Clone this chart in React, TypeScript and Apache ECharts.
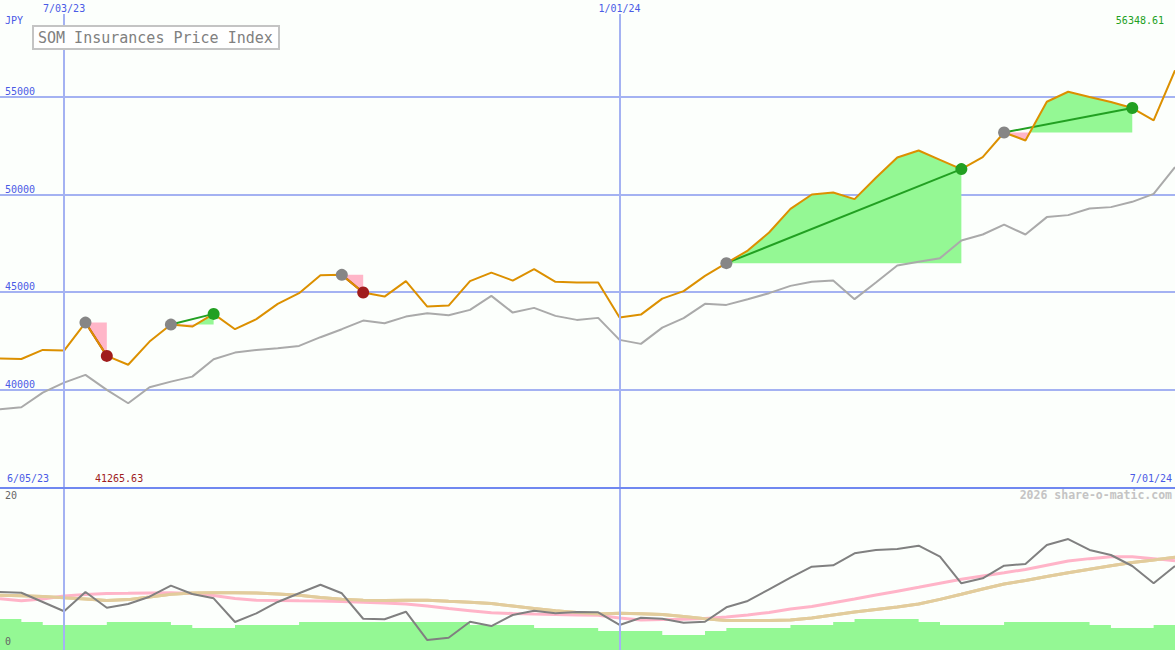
import React, { useEffect, useRef } from 'react';
import * as echarts from 'echarts';

// ---- data (weekly, index 0..55) ----
const topDateLabels = ['7/03/23', '1/01/24'];
const topDateIndex = [3, 29];
const edgeLabels = ['6/05/23', '7/01/24'];
const priceTicks = [40000, 45000, 50000, 55000];

const price = [
  41579, 41560, 42025, 41989, 43425, 41717, 41265.63, 42451, 43322, 43220,
  43871, 43086, 43599, 44384, 44932, 45855, 45870, 44963, 44758, 45547,
  44245, 44296, 45547, 45988, 45578, 46163, 45512, 45476, 45476, 43681,
  43835, 44655, 45035, 45819, 46470, 47116, 48039, 49254, 49987, 50090,
  49751, 50844, 51884, 52243, 51766, 51290, 51905, 53166, 52756, 54740,
  55253, 54981, 54725, 54417, 53781, 56348.61,
];

const compare = [
  38985, 39087, 39836, 40349, 40743, 39974, 39292, 40113, 40400, 40656,
  41548, 41887, 42025, 42112, 42230, 42676, 43086, 43527, 43394, 43732,
  43907, 43804, 44076, 44794, 43937, 44179, 43768, 43563, 43666, 42538,
  42333, 43168, 43650, 44384, 44332, 44625, 44932, 45306, 45512, 45578,
  44625, 45476, 46347, 46537, 46727, 47629, 47937, 48449, 47937, 48829,
  48931, 49270, 49341, 49613, 50023, 51392,
];

const osc = [
  7.16, 7.07, 5.93, 4.78, 7.16, 5.22, 5.68, 6.58, 7.94, 6.91,
  6.38, 3.46, 4.53, 5.93, 7.0, 8.06, 7.0, 3.86, 3.79, 4.73,
  1.23, 1.52, 3.49, 2.96, 4.32, 4.85, 4.53, 4.69, 4.65, 3.09,
  3.99, 3.86, 3.37, 3.49, 5.27, 6.05, 7.49, 8.93, 10.28, 10.46,
  11.94, 12.35, 12.47, 12.88, 11.52, 8.23, 8.85, 10.41, 10.62, 12.96,
  13.7, 12.35, 11.73, 10.37, 8.23, 10.37,
];

const maFast = [
  6.33, 6.09, 6.3, 6.67, 6.85, 6.98, 7.0, 7.04, 7.06, 6.98,
  6.73, 6.36, 6.15, 6.1, 6.07, 6.05, 5.98, 5.89, 5.8, 5.68,
  5.43, 5.12, 4.86, 4.6, 4.51, 4.44, 4.38, 4.32, 4.28, 3.95,
  3.7, 3.75, 3.79, 3.89, 4.07, 4.32, 4.63, 5.06, 5.37, 5.83,
  6.3, 6.78, 7.26, 7.74, 8.25, 8.73, 9.14, 9.53, 9.95, 10.47,
  10.98, 11.28, 11.52, 11.52, 11.28, 11.02,
];

const maSlow = [
  6.75, 6.7, 6.6, 6.44, 6.3, 6.11, 6.22, 6.54, 6.89, 7.04,
  7.07, 7.06, 7.04, 6.91, 6.77, 6.48, 6.27, 6.14, 6.1, 6.14,
  6.14, 6.01, 5.89, 5.74, 5.43, 5.12, 4.86, 4.62, 4.44, 4.53,
  4.47, 4.37, 4.14, 3.86, 3.65, 3.63, 3.65, 3.7, 3.95, 4.32,
  4.69, 5.0, 5.31, 5.67, 6.25, 6.88, 7.54, 8.14, 8.59, 9.07,
  9.53, 9.98, 10.4, 10.8, 11.11, 11.44,
];

const volume = [
  3.83, 3.46, 3.09, 3.09, 3.09, 3.46, 3.46, 3.46, 3.09, 2.72,
  2.72, 3.09, 3.09, 3.09, 3.46, 3.46, 3.46, 3.46, 3.46, 3.46,
  3.46, 3.46, 3.09, 3.09, 3.09, 2.72, 2.72, 2.72, 2.35, 2.35,
  2.35, 1.85, 1.85, 2.35, 2.72, 2.72, 2.72, 3.09, 3.09, 3.46,
  3.83, 3.83, 3.83, 3.46, 3.09, 3.09, 3.09, 3.46, 3.46, 3.46,
  3.46, 3.09, 2.72, 2.72, 3.09, 3.09,
];

const tradeEntry = [4, 8, 16, 34, 47];
const tradeExit = [5, 10, 17, 45, 53];

// ---- styles ----
const FONT = 'DejaVu Sans Mono';
const BG = '#fcfffc';
const GRID_BLUE = '#a4b2f2';
const SEP_BLUE = '#7088f0';
const LABEL_BLUE = '#4a5ae6';
const ORANGE = '#dc9000';
const GRAY_LINE = '#aaaaaa';
const WIN = '#22a022';
const LOSS = '#a01c1c';
const FILL_GREEN = '#94f894';
const FILL_PINK = '#ffb6c8';

const App: React.FC = () => {
  const ref = useRef<HTMLDivElement>(null);

  useEffect(() => {
    if (!ref.current) return;
    const chart = echarts.init(ref.current, undefined, { renderer: 'svg' });
    const idx = (arr: number[]) => arr.map((v, k) => [k, v]);
    const low = Math.min(...price);
    const last = price[price.length - 1];

    const renderTrade = (params: any, api: any) => {
      const i = params.dataIndex;
      const a = tradeEntry[i];
      const b = tradeExit[i];
      const base = price[a];
      const pts: number[][] = [[a, price[a]]];
      for (let k = a; k < b; k++) {
        const d0 = price[k] - base;
        const d1 = price[k + 1] - base;
        if (d0 * d1 < 0) {
          const t = d0 / (d0 - d1);
          pts.push([k + t, base]);
        }
        pts.push([k + 1, price[k + 1]]);
      }
      const children: any[] = [];
      let run: number[][] = [pts[0]];
      let sign = 0;
      const flush = () => {
        if (run.length >= 2 && sign !== 0) {
          const poly = run
            .concat([[run[run.length - 1][0], base], [run[0][0], base]])
            .map((p) => api.coord(p));
          children.push({
            type: 'polygon',
            shape: { points: poly },
            style: { fill: sign > 0 ? FILL_GREEN : FILL_PINK, stroke: 'none' },
          });
        }
      };
      for (let j = 1; j < pts.length; j++) {
        const p = pts[j];
        const s = Math.sign(p[1] - base);
        if (s === 0) {
          run.push(p);
          flush();
          run = [p];
          sign = 0;
        } else {
          if (sign === 0) sign = s;
          run.push(p);
        }
      }
      flush();
      const p0 = api.coord([a, price[a]]);
      const p1 = api.coord([b, price[b]]);
      children.push({
        type: 'line',
        shape: { x1: p0[0], y1: p0[1], x2: p1[0], y2: p1[1] },
        style: { stroke: price[b] > base ? WIN : LOSS, lineWidth: 2 },
      });
      return { type: 'group', children };
    };

    const vLines = {
      silent: true,
      symbol: 'none',
      label: { show: false },
      lineStyle: { color: GRID_BLUE, width: 2, type: 'solid' },
      emphasis: { disabled: true },
      data: topDateIndex.map((x) => ({ xAxis: x })),
    };

    chart.setOption({
      animation: false,
      backgroundColor: BG,
      grid: [
        { left: 0, right: 0, top: 14, height: 473 },
        { left: 0, right: 0, top: 488, height: 162 },
      ],
      xAxis: [
        {
          gridIndex: 0,
          type: 'value',
          min: 0,
          max: price.length - 1,
          position: 'top',
          axisLine: { show: false },
          axisTick: { show: false },
          splitLine: { show: false },
          axisLabel: {
            customValues: topDateIndex,
            formatter: (v: number) => topDateLabels[topDateIndex.indexOf(v)] ?? '',
            color: LABEL_BLUE,
            fontSize: 10,
            fontFamily: FONT,
            margin: 1,
          },
        },
        {
          gridIndex: 1,
          type: 'value',
          min: 0,
          max: price.length - 1,
          position: 'top',
          axisLine: { show: true, onZero: false, lineStyle: { color: SEP_BLUE, width: 2 } },
          axisTick: { show: false },
          splitLine: { show: false },
          axisLabel: { show: false },
          z: 10,
        },
      ],
      yAxis: [
        {
          gridIndex: 0,
          type: 'value',
          min: 35000,
          max: 59237,
          interval: 5000,
          axisLine: { show: false },
          axisTick: { show: false },
          splitLine: {
            show: true,
            showMinLine: false,
            showMaxLine: false,
            lineStyle: { color: GRID_BLUE, width: 2 },
          },
          axisLabel: {
            inside: true,
            margin: 5,
            verticalAlign: 'bottom',
            color: LABEL_BLUE,
            fontSize: 10,
            fontFamily: FONT,
            formatter: (v: number) => (priceTicks.includes(v) ? String(v) : ''),
          },
        },
        {
          gridIndex: 1,
          type: 'value',
          min: 0,
          max: 20,
          show: false,
          splitLine: { show: false },
        },
      ],
      series: [
        {
          type: 'custom',
          name: 'trades',
          xAxisIndex: 0,
          yAxisIndex: 0,
          z: 2,
          clip: false,
          silent: true,
          encode: { x: 0, y: 1 },
          data: tradeEntry.map((a, i) => [a, price[a], tradeExit[i]]),
          renderItem: renderTrade,
        },
        {
          type: 'line',
          name: 'compare',
          xAxisIndex: 0,
          yAxisIndex: 0,
          z: 3,
          symbol: 'none',
          silent: true,
          lineStyle: { color: GRAY_LINE, width: 2 },
          data: idx(compare),
          markLine: vLines,
        },
        {
          type: 'line',
          name: 'price',
          xAxisIndex: 0,
          yAxisIndex: 0,
          z: 4,
          symbol: 'none',
          silent: true,
          lineStyle: { color: ORANGE, width: 2 },
          data: idx(price),
        },
        {
          type: 'scatter',
          name: 'entries',
          xAxisIndex: 0,
          yAxisIndex: 0,
          z: 5,
          symbolSize: 12,
          silent: true,
          itemStyle: { color: '#868686', opacity: 1 },
          data: tradeEntry.map((a) => [a, price[a]]),
        },
        {
          type: 'scatter',
          name: 'exits',
          xAxisIndex: 0,
          yAxisIndex: 0,
          z: 5,
          symbolSize: 12,
          silent: true,
          data: tradeExit.map((b, i) => ({
            value: [b, price[b]],
            itemStyle: { color: price[b] > price[tradeEntry[i]] ? WIN : LOSS, opacity: 1 },
          })),
        },
        // lower panel
        {
          type: 'line',
          name: 'maSlow',
          xAxisIndex: 1,
          yAxisIndex: 1,
          z: 1,
          symbol: 'none',
          silent: true,
          lineStyle: { color: '#e2cc9c', width: 3 },
          data: idx(maSlow),
          markLine: vLines,
        },
        {
          type: 'line',
          name: 'volume',
          xAxisIndex: 1,
          yAxisIndex: 1,
          z: 2,
          step: 'end',
          symbol: 'none',
          silent: true,
          lineStyle: { width: 0, color: FILL_GREEN },
          areaStyle: { color: FILL_GREEN, opacity: 1 },
          data: idx(volume),
        },
        {
          type: 'line',
          name: 'maFast',
          xAxisIndex: 1,
          yAxisIndex: 1,
          z: 3,
          symbol: 'none',
          silent: true,
          lineStyle: { color: '#ffb4c8', width: 3 },
          data: idx(maFast),
        },
        {
          type: 'line',
          name: 'maSlowTop',
          xAxisIndex: 1,
          yAxisIndex: 1,
          z: 3,
          symbol: 'none',
          silent: true,
          lineStyle: { color: '#e2cc9c', width: 3 },
          data: idx(maSlow),
        },
        {
          type: 'line',
          name: 'osc',
          xAxisIndex: 1,
          yAxisIndex: 1,
          z: 4,
          symbol: 'none',
          silent: true,
          lineStyle: { color: '#808080', width: 2 },
          data: idx(osc),
        },
      ],
      graphic: [
        {
          type: 'text',
          left: 5,
          top: 15,
          z: 100,
          style: { text: 'JPY', fill: LABEL_BLUE, font: `10px "${FONT}"` },
        },
        {
          type: 'group',
          left: 32,
          top: 25,
          z: 100,
          children: [
            {
              type: 'rect',
              z: 100,
              shape: { x: 0, y: 0, width: 246, height: 23 },
              style: { fill: '#ffffff', stroke: '#c4c4c4', lineWidth: 2 },
            },
            {
              type: 'text',
              z: 101,
              x: 5,
              y: 12,
              style: {
                text: 'SOM Insurances Price Index',
                fill: '#808080',
                font: `15px "${FONT}"`,
                verticalAlign: 'middle',
              },
            },
          ],
        },
        {
          type: 'text',
          right: 11,
          top: 15,
          z: 100,
          style: { text: last.toFixed(2), fill: WIN, font: `10px "${FONT}"` },
        },
        {
          type: 'text',
          left: 7,
          top: 473,
          z: 100,
          style: { text: edgeLabels[0], fill: LABEL_BLUE, font: `10px "${FONT}"` },
        },
        {
          type: 'text',
          left: 95,
          top: 473,
          z: 100,
          style: { text: low.toFixed(2), fill: LOSS, font: `10px "${FONT}"` },
        },
        {
          type: 'text',
          right: 3,
          top: 473,
          z: 100,
          style: { text: edgeLabels[1], fill: LABEL_BLUE, font: `10px "${FONT}"` },
        },
        {
          type: 'text',
          right: 3,
          top: 489,
          z: 100,
          style: {
            text: '2026 share-o-matic.com',
            fill: '#c4c4c4',
            font: `bold 11.5px "${FONT}"`,
          },
        },
        {
          type: 'text',
          left: 5,
          top: 490,
          z: 100,
          style: { text: '20', fill: '#666666', font: `10px "${FONT}"` },
        },
        {
          type: 'text',
          left: 5,
          top: 636,
          z: 100,
          style: { text: '0', fill: '#666666', font: `10px "${FONT}"` },
        },
      ],
    });

    return () => {
      chart.dispose();
    };
  }, []);

  return (
    <div
      ref={ref}
      style={{ position: 'fixed', left: 0, top: 0, width: 1175, height: 650 }}
    />
  );
};

export default App;
